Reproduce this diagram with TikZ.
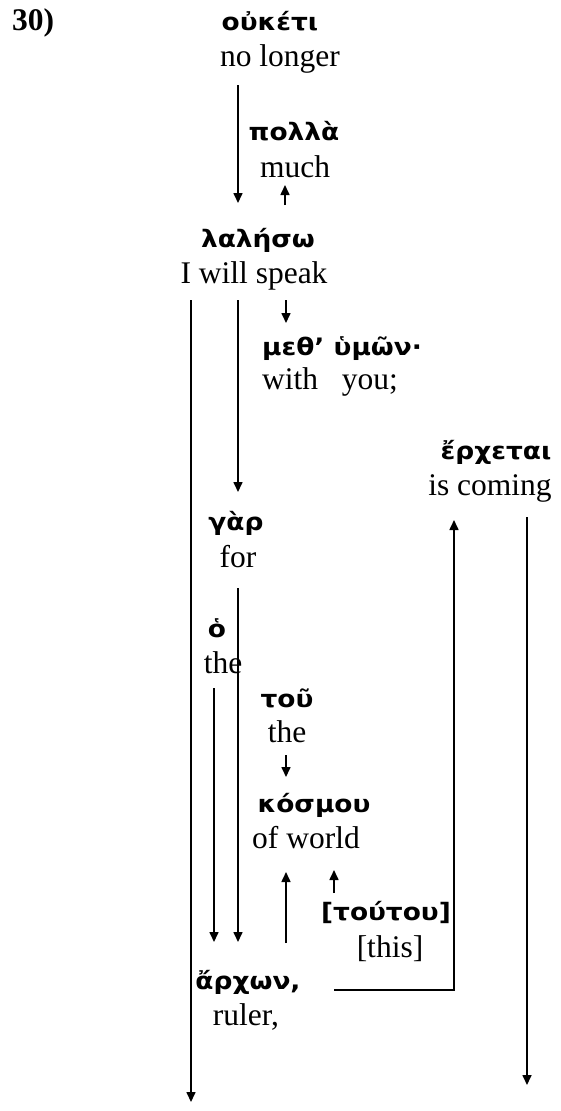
\documentclass[tikz,border=0pt]{standalone}
\usepackage{fontspec}
\setmainfont{Liberation Serif}
\newfontfamily\grkfont[FakeStretch=1.1]{DejaVu Sans Bold}
\usetikzlibrary{arrows.meta}
\tikzset{
  grk/.style={anchor=base, inner sep=0pt, font=\grkfont\fontsize{24}{28}\selectfont},
  gls/.style={anchor=base, inner sep=0pt, font=\fontsize{31.5}{36}\selectfont},
  arr/.style={line width=1.6pt, -{Triangle[length=10pt,width=9pt]}}
}

\begin{document}
\begin{tikzpicture}[x=1pt,y=-1pt]
			%%%%% START %%%%%
			\useasboundingbox (0,0) rectangle (561,1111);
			
			\node[gls, anchor=base west, font=\bfseries\fontsize{31.5}{36}\selectfont] (num) at (12,30) {30)};
			
			\node[grk] (ouk) at (270,30) {οὐκέτι};
			\node[gls] (oukGl) at (280,66) {no longer};
			\node[grk] (pol) at (294,140) {πολλὰ};
			\node[gls] (polGl) at (295,177) {much};
			\node[grk] (lal) at (258,247) {λαλήσω};
			\node[gls] (lalGl) at (254,283) {I will speak};
			\node[grk, anchor=base west] (meth) at (262,355) {μεθ’ ὑμῶν·};
			\node[gls, anchor=base west] (methGl) at (262,389) {with~~~you;};
			\node[grk] (erx) at (496,459) {ἔρχεται};
			\node[gls] (erxGl) at (490,495) {is coming};
			\node[grk] (gar) at (236,530) {γὰρ};
			\node[gls] (garGl) at (238,567) {for};
			\node[grk] (ho) at (217,637) {ὁ};
			\node[gls] (hoGl) at (223,673) {the};
			\node[grk] (tou) at (287,707) {τοῦ};
			\node[gls] (touGl) at (287,742) {the};
			\node[grk] (kos) at (314,812) {κόσμου};
			\node[gls] (kosGl) at (306,848) {of world};
			\node[grk] (tout) at (386,920) {[τούτου]};
			\node[gls] (toutGl) at (390,957) {[this]};
			\node[grk] (arx) at (248,989) {ἄρχων,};
			\node[gls] (arxGl) at (246,1025) {ruler,};
			
			\coordinate (oukA) at (238,85);   \coordinate (lalA) at (238,203);
			\coordinate (lalB) at (285,205);  \coordinate (polA) at (285,185);
			\coordinate (lalC) at (191,300);  \coordinate (endA) at (191,1102);
			\coordinate (lalD) at (238,300);  \coordinate (garA) at (238,492);
			\coordinate (lalE) at (286,300);  \coordinate (methA) at (286,323);
			\coordinate (garB) at (238,588);  \coordinate (arxA) at (238,942);
			\coordinate (hoA) at (214,688);   \coordinate (arxB) at (214,942);
			\coordinate (touA) at (286,755);  \coordinate (kosA) at (286,777);
			\coordinate (arxC) at (286,943);  \coordinate (kosB) at (286,872);
			\coordinate (toutA) at (334,893); \coordinate (kosC) at (334,870);
			\coordinate (arxD) at (334,990);  \coordinate (erxA) at (454,520);
			\coordinate (erxB) at (527,517);  \coordinate (endB) at (527,1085);
			
			\draw[arr] (oukA) -- (lalA);
			\draw[arr] (lalB) -- (polA);
			\draw[arr] (lalC) -- (endA);
			\draw[arr] (lalD) -- (garA);
			\draw[arr] (lalE) -- (methA);
			\draw[arr] (garB) -- (arxA);
			\draw[arr] (hoA) -- (arxB);
			\draw[arr] (touA) -- (kosA);
			\draw[arr] (arxC) -- (kosB);
			\draw[arr] (toutA) -- (kosC);
			\draw[arr] (arxD) -- (arxD -| erxA) -- (erxA);
			\draw[arr] (erxB) -- (endB);
			
			%%%%% END %%%%%
		\end{tikzpicture}
\end{document}
